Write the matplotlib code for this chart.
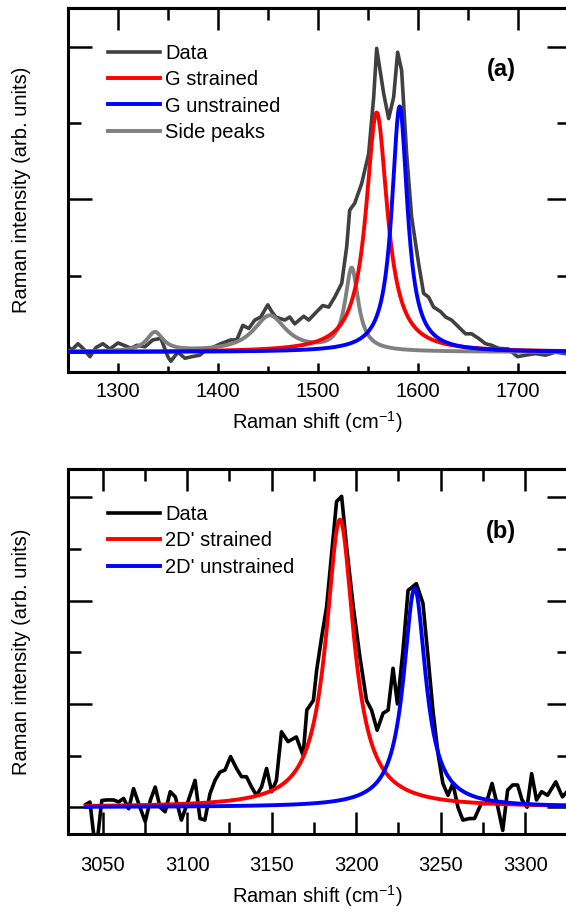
import numpy as np
import matplotlib.pyplot as plt
from matplotlib.ticker import MultipleLocator

plt.rcParams['font.family'] = ['Liberation Sans', 'DejaVu Sans']
plt.rcParams['mathtext.fontset'] = 'custom'
plt.rcParams['mathtext.rm'] = 'Liberation Sans'

# ---- panel (a): G band ----
g_shift = [1250, 1254, 1260, 1265, 1272, 1278, 1285, 1292, 1300, 1306, 1313, 1319,
           1327, 1335, 1343, 1350, 1353, 1360, 1367, 1374, 1382, 1388, 1393, 1403,
           1413, 1419, 1425, 1431, 1437, 1443, 1450, 1454, 1458, 1467, 1472, 1477,
           1486, 1491, 1499, 1505, 1511, 1517, 1524, 1529, 1532, 1537, 1544, 1551,
           1556, 1559, 1566, 1571, 1576, 1580, 1584, 1589, 1594, 1601, 1606, 1611,
           1616, 1623, 1628, 1634, 1641, 1648, 1654, 1661, 1668, 1674, 1681, 1691,
           1700, 1708, 1718, 1728, 1738, 1748, 1750]
g_data = [0.07, 0.03, 0.11, 0.05, -0.06, 0.06, 0.11, 0.04, 0.12, 0.09, 0.05, 0.09,
          0.07, 0.16, 0.18, -0.06, -0.12, 0.00, -0.08, -0.06, -0.04, 0.03, 0.05, 0.11,
          0.16, 0.16, 0.35, 0.31, 0.42, 0.46, 0.62, 0.53, 0.46, 0.42, 0.46, 0.37,
          0.47, 0.42, 0.53, 0.61, 0.59, 0.72, 0.90, 1.38, 1.86, 1.95, 2.21, 2.60,
          3.34, 3.98, 3.39, 3.06, 3.34, 3.93, 3.69, 2.60, 1.77, 1.16, 0.77, 0.72,
          0.59, 0.53, 0.46, 0.42, 0.33, 0.24, 0.24, 0.18, 0.11, 0.09, 0.05, 0.04,
          -0.06, -0.04, -0.02, -0.04, 0.00, -0.02, -0.01]

# Lorentzian fit results: centre, height, FWHM
g_strained = [1559, 3.14, 26]
g_unstrained = [1582, 3.22, 19]
side_centres = [1337, 1452, 1534]
side_heights = [0.25, 0.47, 1.08]
side_widths = [20, 40, 16]

# ---- panel (b): 2D' band ----
d_shift = [3040, 3042.5, 3046, 3049.5, 3052.4, 3056.5, 3059.5, 3062.4, 3065.4, 3068.3,
           3071.3, 3075.2, 3078.2, 3081.1, 3084, 3087, 3090, 3093, 3096.6, 3100.7,
           3104.7, 3107.6, 3110.5, 3113.5, 3116.5, 3119.4, 3122.4, 3125.7, 3129.2,
           3132.2, 3135.1, 3138.1, 3141, 3144, 3147, 3150, 3152.8, 3155.8, 3159.7,
           3164.6, 3168.6, 3170.8, 3174.7, 3176.6, 3179.6, 3182.5, 3185.5, 3188.4,
           3191.4, 3194.3, 3198.3, 3202.2, 3206.1, 3209.1, 3212.4, 3215.9, 3218.9,
           3221.8, 3224.4, 3227.7, 3230.7, 3235.6, 3239.5, 3242.5, 3245.4, 3248.4,
           3251.3, 3254.3, 3257.2, 3260.2, 3263.1, 3267, 3270, 3274, 3276.9, 3280.4,
           3283.8, 3286.7, 3289.6, 3292.6, 3295.5, 3298.1, 3301.1, 3303.8, 3306.7,
           3309.7, 3313.2, 3318.1, 3322, 3326]
d_data = [0.05, 0.10, -0.90, 0.13, 0.14, 0.14, 0.10, 0.17, -0.03, 0.36,
          0.07, -0.28, 0.13, 0.39, 0.00, -0.09, 0.30, 0.20, -0.25, 0.13,
          0.52, -0.22, -0.25, 0.26, 0.52, 0.68, 0.72, 0.98, 0.75,
          0.59, 0.59, 0.39, 0.23, 0.39, 0.75, 0.30, 0.52, 1.46, 1.27,
          1.36, 1.00, 1.88, 2.07, 2.65, 3.30, 3.88, 4.92, 5.92,
          6.02, 5.05, 3.88, 2.91, 2.07, 1.88, 1.49, 1.82, 1.88,
          2.69, 2.00, 3.04, 4.20, 4.33, 3.95, 2.91, 1.88, 1.04,
          0.46, 0.23, 0.46, 0.00, -0.25, -0.22, -0.22, 0.07, 0.07, 0.46,
          0.00, -0.45, 0.33, 0.43, 0.43, 0.14, 0.00, 0.65, 0.14,
          0.30, 0.23, 0.49, 0.20, 0.35]

d_strained = [3190.4, 5.57, 20]
d_unstrained = [3234.6, 4.24, 16]


def lorentz(x, centre, height, fwhm):
    return height / (1 + ((x - centre) / (fwhm / 2)) ** 2)


def style(ax, xlim, ylim, bottom_len, label_pad):
    ax.set_xlim(*xlim)
    ax.set_ylim(*ylim)
    step = 100 if xlim[0] < 2000 else 50
    ax.xaxis.set_major_locator(MultipleLocator(step))
    ax.xaxis.set_minor_locator(MultipleLocator(step / 2))
    ax.yaxis.set_major_locator(MultipleLocator(2))
    ax.yaxis.set_minor_locator(MultipleLocator(1))
    ax.tick_params(which='both', direction='in', width=1.8, labelsize=14.5)
    ax.tick_params(axis='x', which='major', length=bottom_len[0], pad=label_pad)
    ax.tick_params(axis='x', which='minor', length=bottom_len[1])
    ax.tick_params(axis='y', which='major', length=17.3, labelleft=False)
    ax.tick_params(axis='y', which='minor', length=9.4)
    for s in ax.spines.values():
        s.set_linewidth(2.2)

    # top and right axes carry their own tick lengths
    top = ax.secondary_xaxis('top')
    top.xaxis.set_major_locator(MultipleLocator(step))
    top.xaxis.set_minor_locator(MultipleLocator(step / 2))
    top.tick_params(which='both', direction='in', width=1.8, labeltop=False)
    top.tick_params(which='major', length=16)
    top.tick_params(which='minor', length=8.8)
    top.spines['top'].set_linewidth(2.2)

    right = ax.secondary_yaxis('right')
    right.yaxis.set_major_locator(MultipleLocator(2))
    right.yaxis.set_minor_locator(MultipleLocator(1))
    right.tick_params(which='both', direction='in', width=1.8, labelright=False)
    right.tick_params(which='major', length=14.4)
    right.tick_params(which='minor', length=7.2)
    right.spines['right'].set_linewidth(2.2)

    ax.set_xlabel(r'Raman shift (cm$^{-1}$)', fontsize=14.5, labelpad=6)
    ax.set_ylabel('Raman intensity (arb. units)', fontsize=14.5, labelpad=23)


def add_legend(ax):
    ax.legend(loc='upper left', bbox_to_anchor=(0.08, 0.902), frameon=False,
              fontsize=14.5, handlelength=2.6, handletextpad=0.25, labelspacing=0.37,
              borderpad=0, borderaxespad=0)


fig = plt.figure(figsize=(5.66, 9.13), dpi=100)
ax1 = fig.add_axes([0.1201, 0.5926, 0.8825, 0.3987])
ax2 = fig.add_axes([0.1201, 0.0865, 0.8825, 0.3998])

# panel (a)
xa = np.linspace(1250, 1750, 1001)
side = sum(lorentz(xa, c, h, w) for c, h, w in zip(side_centres, side_heights, side_widths))
ax1.plot(g_shift, g_data, color='#404040', lw=2.6, label='Data', zorder=2)
ax1.plot(xa, lorentz(xa, *g_strained), color='#ff0000', lw=2.8, label='G strained', zorder=4)
ax1.plot(xa, lorentz(xa, *g_unstrained), color='#0000ff', lw=2.8, label='G unstrained', zorder=5)
ax1.plot(xa, side, color='#808080', lw=2.8, label='Side peaks', zorder=3)
style(ax1, (1250, 1750), (-0.26, 4.51), (6.8, 4.5), 7.2)
add_legend(ax1)
ax1.text(0.867, 0.832, '(a)', transform=ax1.transAxes, fontsize=17,
         fontweight='bold', ha='center', va='center')

# panel (b)
xb = np.linspace(3040, 3330, 1001)
ax2.plot(d_shift, d_data, color='black', lw=2.6, label='Data', zorder=2)
ax2.plot(xb, lorentz(xb, *d_strained), color='#ff0000', lw=2.8, label="2D' strained", zorder=4)
ax2.plot(xb, lorentz(xb, *d_unstrained), color='#0000ff', lw=2.8, label="2D' unstrained", zorder=5)
style(ax2, (3029.5, 3325), (-0.52, 6.55), (16, 8.8), 16)
add_legend(ax2)
ax2.text(0.867, 0.830, '(b)', transform=ax2.transAxes, fontsize=17,
         fontweight='bold', ha='center', va='center')

fig.savefig('out.png', dpi=100)
